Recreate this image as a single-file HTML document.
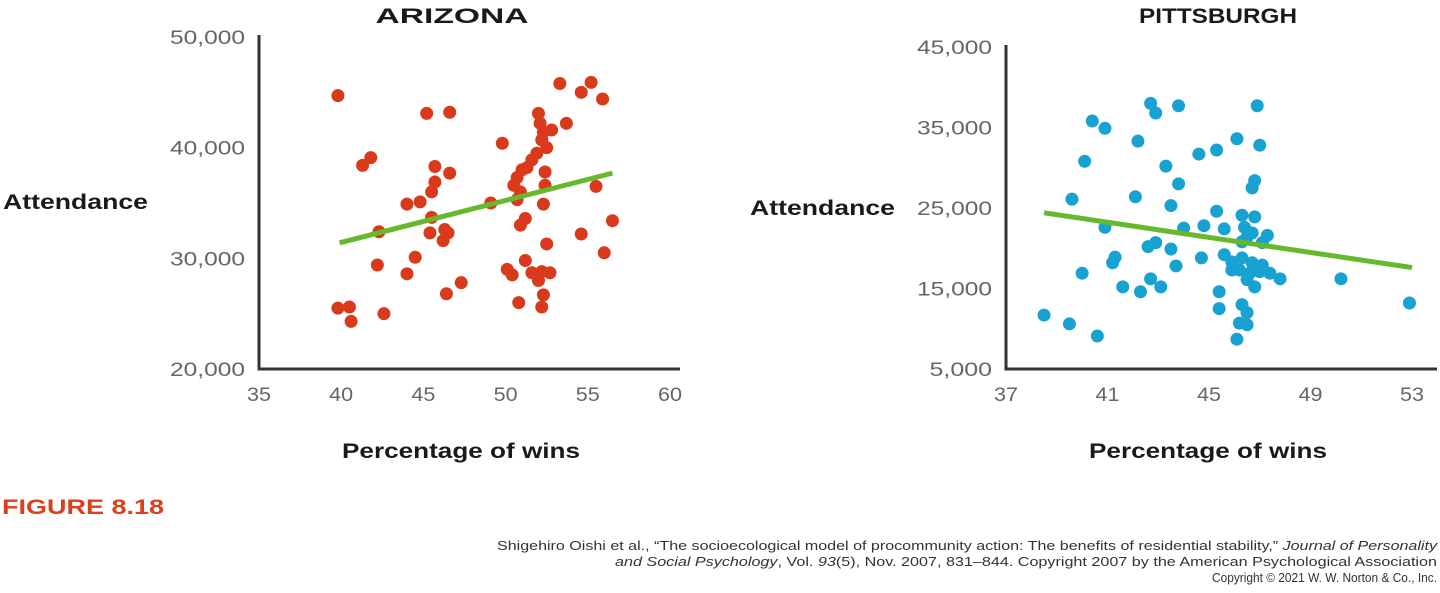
<!DOCTYPE html>
<html><head><meta charset="utf-8"><style>
html,body{margin:0;padding:0;background:#fff;width:1440px;height:593px;overflow:hidden}
svg{display:block}
text{font-family:"Liberation Sans",sans-serif}
</style></head><body>
<svg id="fig" width="1440" height="593" viewBox="0 0 1440 593"></svg>
<script>
const azX=[39.8,45.2,46.6,53.3,54.6,55.2,55.9,53.7,52.0,52.1,52.3,52.8,52.2,52.5,51.9,51.6,51.3,51.0,52.4,50.7,50.5,50.9,52.4,50.7,49.8,55.5,56.5,54.6,56.0,52.3,49.1,51.2,50.9,52.5,41.3,41.8,45.7,46.6,45.7,45.5,44.0,44.8,45.5,45.4,46.3,46.5,46.2,42.3,42.2,44.0,44.5,46.4,47.3,39.8,40.5,40.6,42.6,50.1,50.4,51.2,50.8,51.6,52.2,52.7,52.0,52.3,52.2];
const azY=[44700,43100,43200,45800,45000,45900,44400,42200,43100,42200,41400,41600,40700,40000,39500,38900,38200,38000,37800,37300,36600,36000,36600,35300,40400,36500,33400,32200,30500,34900,35000,33600,33000,31300,38400,39100,38300,37700,36900,36000,34900,35100,33700,32300,32600,32300,31600,32400,29400,28600,30100,26800,27800,25500,25600,24300,25000,29000,28500,29800,26000,28700,28800,28700,28000,26700,25600];
const azTrendX=[39.9,56.5];
const azTrendY=[31400,37700];
const azXTicks=[35,40,45,50,55,60];
const azYTicks=[20000,30000,40000,50000];
const azYTickLabels=["20,000","30,000","40,000","50,000"];

const piX=[38.5,39.5,40.6,40.0,39.6,40.1,40.4,40.9,40.9,41.3,41.2,41.6,42.3,42.7,43.1,42.1,42.2,42.7,42.9,43.8,43.3,43.8,43.5,42.6,42.9,43.5,43.7,44.0,44.8,44.7,44.6,45.3,45.3,45.6,46.1,46.9,47.0,46.8,46.7,46.3,46.8,46.4,46.5,46.7,47.3,47.1,46.3,45.6,45.9,46.3,46.7,47.1,46.2,46.6,47.0,47.4,47.8,45.9,46.8,46.5,45.4,45.4,46.3,46.5,46.2,46.5,46.1,50.2,52.9];
const piY=[11700,10600,9100,16900,26100,30800,35800,34900,22600,18900,18200,15200,14600,16200,15200,26400,33300,38000,36800,37700,30200,28000,25300,20200,20700,19900,17800,22500,22800,18800,31700,32200,24600,22400,33600,37700,32800,28400,27500,24100,23900,22600,21400,21900,21600,20700,20800,19200,18300,18800,18200,17900,17300,16900,17100,16900,16200,17300,15200,16100,14600,12500,13000,12000,10700,10500,8700,16200,13200];
const piTrendX=[38.5,53];
const piTrendY=[24400,17600];
const piXTicks=[37,41,45,49,53];
const piYTicks=[5000,15000,25000,35000,45000];
const piYTickLabels=["5,000","15,000","25,000","35,000","45,000"];

const NS="http://www.w3.org/2000/svg";
const svg=document.getElementById('fig');
function mk(tag,attrs,parent,txt){const e=document.createElementNS(NS,tag);for(const k in attrs)e.setAttribute(k,attrs[k]);if(txt!==undefined)e.textContent=txt;(parent||svg).appendChild(e);return e;}

function chart(cfg){
  const g=mk('g',{});
  
  
  const sx=v=>cfg.x0+(v-cfg.xmin)/(cfg.xmax-cfg.xmin)*(cfg.x1-cfg.x0);
  const sy=v=>cfg.y0-(v-cfg.ymin)/(cfg.ymax-cfg.ymin)*(cfg.y0-cfg.y1);
  const t=mk('text',{x:cfg.titleX,y:23,'font-size':21,'font-weight':'bold','text-anchor':'middle',fill:'#1a1a1a',textLength:cfg.titleLen,lengthAdjust:'spacingAndGlyphs'},g,cfg.title);
  
  
  const ax=mk('path',{d:`M${cfg.x0} ${cfg.y1-2}V${cfg.y0}H${cfg.axEnd}`,stroke:'#333',fill:'none','stroke-width':3},g);
  
  
  cfg.yTicks.forEach((v,i)=>{
    const s=cfg.yLabels[i];
    const l=mk('text',{x:cfg.x0-14,y:sy(v)+7,'font-size':19,'text-anchor':'end',fill:'#666',textLength:s.length*12.5,lengthAdjust:'spacingAndGlyphs'},g,s);
    
    
  });
  cfg.xTicks.forEach(v=>{
    const l=mk('text',{x:sx(v),y:cfg.y0+32,'font-size':19,'text-anchor':'middle',fill:'#666',textLength:24,lengthAdjust:'spacingAndGlyphs'},g,String(v));
    
    
  });
  const yt=mk('text',{x:cfg.yTitleX,y:cfg.yTitleY,'font-size':21,'font-weight':'bold',fill:'#1a1a1a',textLength:145,lengthAdjust:'spacingAndGlyphs'},g,'Attendance');
  
  
  const xt=mk('text',{x:cfg.xTitleX,y:458,'font-size':21,'font-weight':'bold','text-anchor':'middle',fill:'#1a1a1a',textLength:238,lengthAdjust:'spacingAndGlyphs'},g,'Percentage of wins');
  
  
  cfg.xs.forEach((v,i)=>{
    const c=mk('circle',{cx:sx(v),cy:sy(cfg.ys[i]),r:6.5,fill:cfg.color},g);
    
    
  });
  const tl=mk('line',{x1:sx(cfg.tx[0]),y1:sy(cfg.ty[0]),x2:sx(cfg.tx[1]),y2:sy(cfg.ty[1]),stroke:'#68b82e','stroke-width':5},g);
  
  
}
chart({name:'arizona-chart',title:'ARIZONA',titleX:452,titleLen:153,x0:259,x1:670,axEnd:680,xmin:35,xmax:60,y0:369,y1:37,ymin:20000,ymax:50000,
  xTicks:azXTicks,yTicks:azYTicks,yLabels:azYTickLabels,xs:azX,ys:azY,tx:azTrendX,ty:azTrendY,color:'#d93a1c',
  yTitleX:3,yTitleY:209,xTitleX:461});
chart({name:'pittsburgh-chart',title:'PITTSBURGH',titleX:1218,titleLen:158,x0:1006,x1:1412,axEnd:1437,xmin:37,xmax:53,y0:369,y1:47,ymin:5000,ymax:45000,
  xTicks:piXTicks,yTicks:piYTicks,yLabels:piYTickLabels,xs:piX,ys:piY,tx:piTrendX,ty:piTrendY,color:'#18a2d2',
  yTitleX:750,yTitleY:215,xTitleX:1208});
const f=mk('text',{x:2,y:514,'font-size':21,'font-weight':'bold',fill:'#d9401e',textLength:162,lengthAdjust:'spacingAndGlyphs'},svg,'FIGURE 8.18');


const c1=mk('text',{x:497,y:550,'font-size':12.5,fill:'#333',textLength:940,lengthAdjust:'spacingAndGlyphs'},svg);


c1.innerHTML='Shigehiro Oishi et al., “The socioecological model of procommunity action: The benefits of residential stability,” <tspan font-style="italic">Journal of Personality</tspan>';
const c2=mk('text',{x:615,y:566,'font-size':12.5,fill:'#333',textLength:822,lengthAdjust:'spacingAndGlyphs'},svg);


c2.innerHTML='<tspan font-style="italic">and Social Psychology</tspan>, Vol. <tspan font-style="italic">93</tspan>(5), Nov. 2007, 831–844. Copyright 2007 by the American Psychological Association';
const c3=mk('text',{x:1437,y:582,'font-size':12.5,'text-anchor':'end',fill:'#333',textLength:225,lengthAdjust:'spacingAndGlyphs'},svg,'Copyright © 2021 W. W. Norton & Co., Inc.');


</script>
</body></html>
